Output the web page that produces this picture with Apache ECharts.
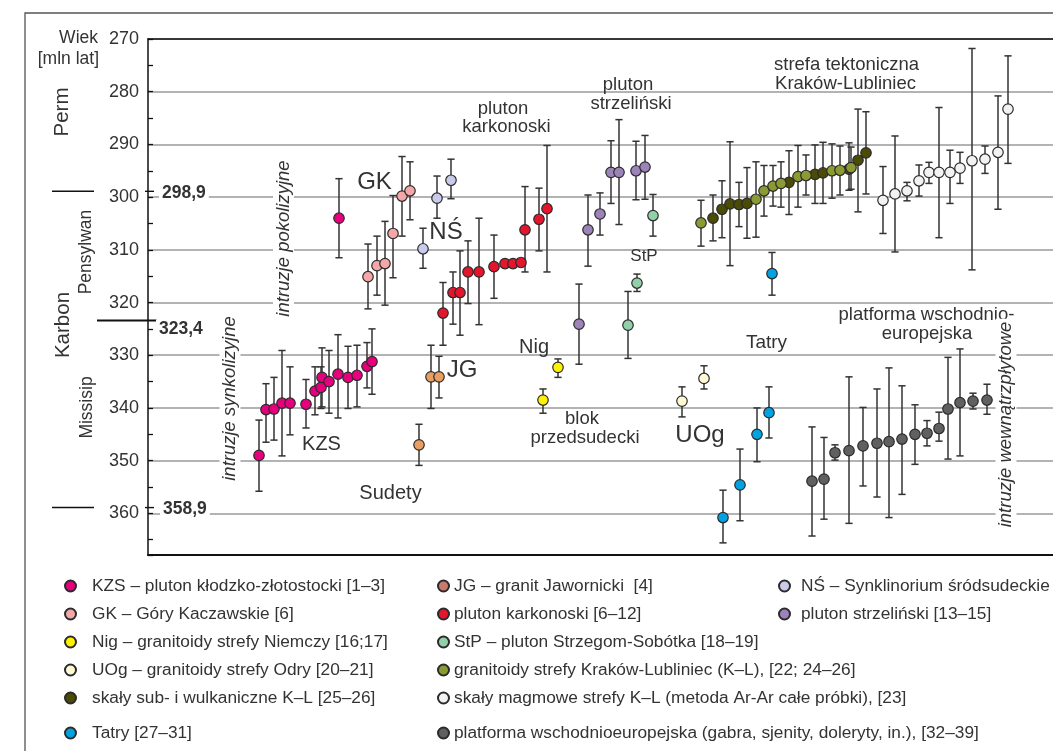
<!DOCTYPE html>
<html><head><meta charset="utf-8">
<script src="https://cdn.jsdelivr.net/npm/echarts@6/dist/echarts.min.js"></script>
<style>html,body{margin:0;padding:0;background:#fff}#c{width:1053px;height:751px}</style>
</head><body><div id="c"></div>
<script>
// ---- DATA: each point = [position along sample axis, age (mln lat), error min, error max]
const ageTicks = [270, 280, 290, 300, 310, 320, 330, 340, 350, 360];
const boundaries = [298.9, 323.4, 358.9];
const boundaryLabels = ['298,9', '323,4', '358,9'];

const KZS = [[11.1,349.0,342.3,355.8],[11.8,340.3,335.4,346.5],[12.6,340.2,334.2,346.1],[13.4,339.1,329.1,349.1],
  [14.2,339.1,332.2,345.1],[15.8,339.3,334.6,343.8],[16.7,336.8,332.2,341.3],[17.3,336.1,332.2,340.1],
  [17.4,334.2,328.6,339.8],[18.1,335.0,329.1,341.0],[19.0,333.6,326.1,341.9],[20.0,334.2,328.3,340.1],
  [20.9,333.8,328.1,339.8],[21.9,332.1,327.6,336.2],[22.4,331.2,325.0,337.4],[19.1,304.0,296.5,311.5]];
const GK = [[22.0,315.1,308.9,321.2],[22.9,313.0,307.4,318.6],[23.7,312.6,304.6,320.5],[24.5,306.9,299.7,315.3],
  [25.4,299.8,292.3,307.4],[26.2,298.8,293.3,304.3]];
const NS = [[27.5,309.8,305.9,313.5],[28.9,300.2,296.0,304.0],[30.3,296.8,292.8,300.3]];
const JG = [[27.1,347.0,343.1,350.9],[28.3,334.1,328.1,340.1],[29.1,334.1,330.2,338.1]];
const KARK = [[29.5,322.0,316.2,328.1],[30.5,318.1,314.2,324.1],[31.2,318.1,310.2,326.2],[32.0,314.2,308.3,320.2],
  [33.1,314.2,304.0,324.2],[34.6,313.2,307.2,319.2],[35.7,312.6,312.6,312.6],[36.5,312.6,312.6,312.6],
  [37.3,312.4,312.4,312.4],[37.7,306.2,298.0,314.2],[39.1,304.2,298.3,310.2],[39.9,302.2,290.2,314.2]];
const STRZ = [[43.1,324.1,316.5,331.7],[44.0,306.2,299.6,313.1],[45.2,303.2,299.2,307.2],[46.3,295.3,289.3,301.2],
  [47.1,295.3,285.3,305.2],[48.8,295.0,289.4,300.5],[49.7,294.3,288.3,300.4]];
const STP = [[48.0,324.3,317.9,330.6],[48.9,316.3,314.6,317.9],[50.5,303.5,299.5,307.4]];
const NIG = [[39.5,338.5,336.4,341.0],[41.0,332.3,330.7,334.2]];
const UOG = [[53.4,338.7,336.0,341.7],[55.6,334.4,332.0,336.4]];
const TATRY = [[57.5,360.8,355.6,365.6],[59.2,354.6,347.8,361.4],[60.9,345.0,340.0,350.2],[62.1,340.9,336.0,345.7],
  [62.4,314.5,310.5,318.6]];
const KL_SUB = [[56.5,304.0,299.6,308.3],[57.4,302.3,296.9,307.7],[58.2,301.3,289.5,313.0],[59.1,301.4,297.2,305.6],
  [59.9,301.2,294.4,307.8],[64.1,297.2,291.2,303.3],[66.7,295.7,290.1,301.2],[67.5,295.4,289.6,301.2],
  [70.1,294.7,289.7,298.7],[71.0,293.0,283.3,302.8],[71.8,291.6,283.8,299.4]];
const KL_GRAN = [[55.3,304.9,300.6,309.3],[60.8,300.4,293.3,307.6],[61.6,298.8,294.0,303.6],[62.5,297.9,294.0,301.7],
  [63.3,297.4,293.3,301.9],[65.0,296.1,290.2,301.9],[65.8,295.9,292.0,299.6],[68.4,295.0,289.9,300.2],
  [69.2,294.9,290.3,299.6],[70.3,294.4,290.5,298.5]];
const KL_ARAR = [[73.5,300.6,294.2,306.9],[74.7,299.4,288.4,310.4],[75.9,298.8,297.2,300.7],[77.1,296.9,293.9,299.8],
  [78.1,295.3,293.4,297.4],[79.1,295.3,283.0,307.7],[80.2,295.3,291.1,301.2],[81.2,294.5,291.5,297.4],
  [82.4,293.1,271.8,313.8],[83.7,292.8,290.3,295.5],[85.0,291.5,280.8,302.3],[86.0,283.3,273.2,293.6]];
const EEP = [[66.4,353.9,343.6,364.3],[67.6,353.5,345.6,361.1],[68.7,348.5,347.0,349.9],[70.1,348.1,334.1,361.9],
  [71.5,347.2,339.9,354.8],[72.9,346.7,336.4,356.9],[74.1,346.4,332.4,360.8],[75.4,345.9,335.8,356.4],
  [76.7,345.0,339.4,350.7],[77.9,344.8,342.4,347.2],[79.1,343.9,340.8,346.3],[80.0,340.2,330.4,349.7],
  [81.2,339.0,328.8,349.1],[82.5,338.7,337.2,340.2],[83.9,338.5,335.5,341.2]];

// ---- series configuration (names & styles)
const groups = [
  {key:'KZS',  name:'KZS – pluton kłodzko-złotostocki [1–3]', color:'#e6007e', data:KZS},
  {key:'GK',   name:'GK – Góry Kaczawskie [6]', color:'#f4a7a6', data:GK},
  {key:'NIG',  name:'Nig – granitoidy strefy Niemczy [16;17]', color:'#fff200', data:NIG},
  {key:'UOG',  name:'UOg – granitoidy strefy Odry [20–21]', color:'#fffad4', data:UOG},
  {key:'KLS',  name:'skały sub- i wulkaniczne K–L [25–26]', color:'#4b4b06', data:KL_SUB},
  {key:'TAT',  name:'Tatry [27–31]', color:'#00a2e2', data:TATRY},
  {key:'JG',   name:'JG – granit Jawornicki  [4]', color:'#e99f62', legendColor:'#c97a6c', data:JG},
  {key:'KARK', name:'pluton karkonoski [6–12]', color:'#e3162d', data:KARK},
  {key:'STP',  name:'StP – pluton Strzegom-Sobótka [18–19]', color:'#92d0a9', data:STP},
  {key:'KLG',  name:'granitoidy strefy Kraków-Lubliniec (K–L), [22; 24–26]', color:'#8c9a33', data:KL_GRAN},
  {key:'KLA',  name:'skały magmowe strefy K–L (metoda Ar-Ar całe próbki), [23]', color:'#f2f2f2', data:KL_ARAR},
  {key:'EEP',  name:'platforma wschodnioeuropejska (gabra, sjenity, doleryty, in.), [32–39]', color:'#606060', data:EEP},
  {key:'NS',   name:'NŚ – Synklinorium śródsudeckie [5]', color:'#cacaea', data:NS},
  {key:'STRZ', name:'pluton strzeliński [13–15]', color:'#9c84b8', data:STRZ}
];
// legend blocks: [column, top row index, keys]
const legendBlocks = [
  [0, 0, ['KZS','GK','NIG','UOG','KLS']], [0, 5, ['TAT']],
  [1, 0, ['JG','KARK','STP','KLG','KLA']], [1, 5, ['EEP']],
  [2, 0, ['NS','STRZ']]
];

const FONT = 'Liberation Sans, Arial, sans-serif';
const TXT = '#333';

const errData = [];
groups.forEach(g => g.data.forEach(d => { if (d[3] > d[2]) errData.push([d[0], d[2], d[3]]); }));

const series = [{
  type:'custom', name:'err', silent:true, z:2,
  data: errData, encode:{x:0, y:[1,2]},
  renderItem: function(params, api){
    const x = api.value(0), lo = api.value(1), hi = api.value(2);
    const a = api.coord([x, lo]), b = api.coord([x, hi]);
    const c = 3.6, st = {stroke:'#333', lineWidth:1.5};
    return {type:'group', children:[
      {type:'line', shape:{x1:a[0], y1:a[1], x2:b[0], y2:b[1]}, style:st},
      {type:'line', shape:{x1:a[0]-c, y1:a[1], x2:a[0]+c, y2:a[1]}, style:st},
      {type:'line', shape:{x1:b[0]-c, y1:b[1], x2:b[0]+c, y2:b[1]}, style:st}
    ]};
  }
}];
groups.forEach(g => series.push({
  type:'scatter', name:g.name, z:3, symbol:'circle', symbolSize:10.5,
  itemStyle:{color:g.color, borderColor:'#2b2b2b', borderWidth:1.2, opacity:1},
  emphasis:{disabled:true},
  data: g.data.map(d => [d[0], d[1]])
}));

const byKey = {}; groups.forEach(g => byKey[g.key] = g);
const legendLeft = [64, 437, 778];
const legendPad = [11, 0, 6];
const rowTop = [576, 604, 632, 660, 688, 723];
const legends = legendBlocks.map(([col, row, keys]) => ({
  orient:'vertical', left:legendLeft[col], top:rowTop[row], height:180, padding:0, itemGap:8, itemWidth:11, itemHeight:11,
  icon:'circle', selectedMode:false,
  textStyle:{fontFamily:FONT, fontSize:17.3, color:TXT, lineHeight:20, padding:[0,0,0,legendPad[col]]},
  data: keys.map(k => { const g = byKey[k]; const o = {name:g.name};
    if (g.legendColor) o.itemStyle = {color:g.legendColor}; return o; })
}));

const chart = echarts.init(document.getElementById('c'), null, {renderer:'canvas'});
const Y0 = 270, Y1 = 367.9;
chart.setOption({
  animation:false,
  backgroundColor:'#fff',
  grid:{left:148, right:0, top:39, bottom:196, containLabel:false},
  legend: legends,
  xAxis:[
    {type:'value', min:0, max:90.5, position:'bottom', axisLine:{show:true, onZero:false, lineStyle:{color:'#111', width:2.2}},
     axisTick:{show:false}, axisLabel:{show:false}, splitLine:{show:false}},
    {type:'value', min:0, max:90.5, position:'top', axisLine:{show:true, onZero:false, lineStyle:{color:'#111', width:1.5}},
     axisTick:{show:false}, axisLabel:{show:false}, splitLine:{show:false}}
  ],
  yAxis:[
    {type:'value', inverse:true, min:Y0, max:Y1, interval:10, position:'left',
     axisLine:{show:true, onZero:false, lineStyle:{color:'#111', width:1.5}},
     axisTick:{show:false},
     axisLabel:{show:true, margin:9, fontFamily:FONT, fontSize:18, color:TXT, showMaxLabel:false, padding:[0,0,8,0],
       formatter: v => ageTicks.indexOf(v) >= 0 ? String(v) : ''},
     splitLine:{show:true, lineStyle:{color:'#9a9a9a', width:1.5}}},
    {type:'value', inverse:true, min:Y0, max:Y1, interval:5, position:'left',
     axisLine:{show:false}, axisLabel:{show:false}, splitLine:{show:false},
     axisTick:{show:true, inside:true, length:5, lineStyle:{color:'#111', width:1.3}}}
  ],
  series: series
});

// ---- annotations (positions in pixels are layout only)
const yPix = v => chart.convertToPixel({yAxisIndex:0}, v);
function txt(x, y, text, size, opt) {
  opt = opt || {};
  return {type:'text', x:x, y:y, rotation:opt.rot || 0, z:50,
    style:Object.assign({text:text, fontFamily:FONT, fontSize:size, fill:TXT, align:opt.align || 'center',
      verticalAlign:'middle', fontStyle:opt.italic ? 'italic' : 'normal', fontWeight:opt.bold ? 'bold' : 'normal'},
      opt.bg ? {backgroundColor:'#fff', padding:[1,3]} : {})};
}
const R = Math.PI / 2;
const els = [
  {type:'polyline', z:1, shape:{points:[[25,760],[25,13],[1060,13]]}, style:{stroke:'#555', lineWidth:1.3, fill:null}},
  txt(98, 38.5, 'Wiek', 17.5, {align:'right'}),
  txt(99, 59, '[mln lat]', 17.5, {align:'right'}),
  txt(62, 112, 'Perm', 20.5, {rot:R}),
  txt(86, 252, 'Pensylwan', 17.5, {rot:R}),
  txt(63, 325, 'Karbon', 20.5, {rot:R}),
  txt(87, 407.5, 'Missisip', 17.5, {rot:R}),
  txt(374.5, 182, 'GK', 24), txt(446, 232, 'NŚ', 24), txt(462, 370, 'JG', 24),
  txt(321.5, 444.5, 'KZS', 20), txt(390.5, 493.5, 'Sudety', 20), txt(534, 347, 'Nig', 20),
  txt(582, 419, 'blok', 18.5), txt(585, 437.5, 'przedsudecki', 18.5),
  txt(700, 435, 'UOg', 24), txt(766.5, 342.5, 'Tatry', 19), txt(644, 256, 'StP', 17),
  txt(503, 108.5, 'pluton', 18.5), txt(506.5, 126.5, 'karkonoski', 18.5),
  txt(628, 85, 'pluton', 18.5), txt(631, 103.5, 'strzeliński', 18.5),
  txt(846.5, 65, 'strefa tektoniczna', 18.5), txt(845.5, 83.5, 'Kraków-Lubliniec', 18.5),
  txt(926.5, 315, 'platforma wschodnio-', 18.5), txt(927, 333.5, 'europejska', 18.5),
  txt(283.5, 238.5, 'intruzje pokolizyjne', 18.5, {rot:R, italic:true, bg:true}),
  txt(230, 398.5, 'intruzje synkolizyjne', 18.5, {rot:R, italic:true, bg:true}),
  txt(1006, 424.5, 'intruzje wewnątrzpłytowe', 18.5, {rot:R, italic:true, bg:true})
];
const bx = [[52,94],[97,157],[52,94]];
const lblX = [159, 156, 160];
boundaries.forEach((b, i) => {
  const py = yPix(b);
  els.push({type:'line', z:50, shape:{x1:bx[i][0], y1:py, x2:bx[i][1], y2:py}, style:{stroke:'#111', lineWidth:i === 1 ? 2 : 1.6}});
  if (i !== 1) els.push({type:'line', z:50, shape:{x1:145, y1:py, x2:154, y2:py}, style:{stroke:'#111', lineWidth:1.4}});
  els.push(txt(lblX[i], py + (i === 1 ? 9 : 2), boundaryLabels[i], 17.5, {align:'left', bold:true, bg:true}));
});
chart.setOption({graphic:{elements:els}});
</script></body></html>
